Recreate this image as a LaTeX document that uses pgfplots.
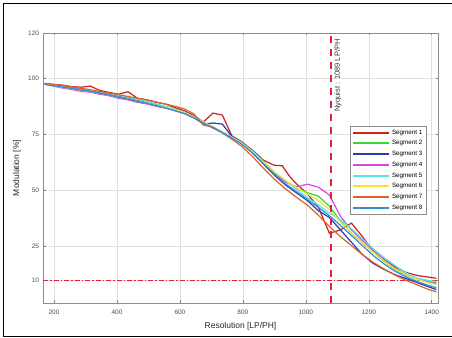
\documentclass[border=0pt]{standalone}
\usepackage{pgfplots}
\pgfplotsset{compat=1.18}
\usepackage{fontspec}
\setmainfont{Liberation Sans}
\definecolor{sone}{RGB}{200,35,30}
\definecolor{stwo}{RGB}{50,220,50}
\definecolor{sthree}{RGB}{40,60,180}
\definecolor{sfour}{RGB}{220,70,220}
\definecolor{sfive}{RGB}{80,230,240}
\definecolor{ssix}{RGB}{240,230,50}
\definecolor{sseven}{RGB}{220,100,40}
\definecolor{seight}{RGB}{50,140,220}
\definecolor{nyq}{RGB}{230,30,60}
\begin{document}
\begin{tikzpicture}
\path[use as bounding box] (0,0) rectangle (452bp,338bp);
\draw[line width=0.9bp] (453bp,2bp) -- (3bp,2bp) -- (3bp,335bp) -- (453bp,335bp);
\begin{axis}[
  at={(43bp,35bp)}, anchor=south west,
  width=395bp, height=270bp, scale only axis,
  xmin=165, xmax=1420, ymin=0, ymax=120,
  xtick={200,400,600,800,1000,1200,1400},
  ytick={10,25,50,75,100,120},
  /pgf/number format/assume math mode=true,
  /pgf/number format/set thousands separator={},
  tick pos=both, tick align=inside,
  major tick length=2.5bp,
  major tick style={black!50, line width=0.5bp},
  axis line style={draw=black!45, line width=0.6bp},
  grid=major, grid style={black!12, line width=0.5bp},
  ticklabel style={font=\fontsize{6.5}{7}\selectfont, text=black!70},
  xticklabel style={yshift=-3.5bp},
  yticklabel style={xshift=-0.5bp},
  xlabel={Resolution [LP/PH]},
  ylabel={Modulation [\%]},
  label style={font=\fontsize{8.5}{9}\selectfont, text=black!85},
  xlabel style={at={(axis description cs:0.5,0)}, anchor=center, yshift=-23bp},
  ylabel style={at={(axis description cs:0,0.5)}, anchor=center, rotate=0, yshift=26bp},
  legend style={at={(0.97,0.656)}, anchor=north east, draw=black!45, line width=0.5bp,
    font=\fontsize{6.3}{7}\selectfont, inner sep=1.5bp, row sep=0.9bp,
    cells={anchor=west}},
  legend image code/.code={\draw[#1,line width=2bp] (0bp,0bp) -- (36bp,0bp);},
  every axis plot/.append style={line width=1.2bp},
]
\addplot[forget plot, color=nyq, line width=1.4bp, dash pattern=on 5bp off 2bp on 1.5bp off 2bp] coordinates {(165,10) (1420,10)};

\addplot[sone] coordinates {(170,97.6) (195,97.2) (225,96.9) (255,96.2) (285,95.9) (315,96.4) (345,94.5) (375,93.6) (405,92.8) (435,93.9) (465,91.0) (495,90.3) (525,89.2) (555,88.4) (585,86.8) (615,85.4) (645,83.2) (675,80.5) (705,84.4) (735,83.5) (765,74.3) (795,71.8) (830,68.0) (865,63.5) (900,61.2) (925,61.0) (950,56.0) (970,53.0) (1005,48.5) (1040,42.5) (1075,31.0) (1110,32.5) (1145,35.5) (1180,29.5) (1215,23.0) (1250,19.2) (1285,16.0) (1320,13.5) (1355,12.2) (1390,11.5) (1415,11.0)};
\addlegendentry{Segment 1}
\addplot[stwo] coordinates {(170,97.3) (195,96.8) (225,96.1) (255,95.5) (285,94.8) (315,94.3) (345,93.4) (375,92.6) (405,91.8) (435,90.9) (465,90.0) (495,89.0) (525,88.0) (555,87.0) (585,85.8) (615,84.4) (645,82.5) (675,80.3) (705,78.0) (735,76.0) (765,73.8) (795,71.2) (830,67.3) (865,62.5) (900,57.8) (935,54.2) (970,51.0) (1005,49.0) (1040,47.5) (1075,43.0) (1110,36.5) (1145,31.0) (1180,26.8) (1215,22.5) (1250,18.3) (1285,14.8) (1320,12.3) (1355,10.5) (1390,9.5) (1415,9.0)};
\addlegendentry{Segment 2}
\addplot[sthree] coordinates {(170,97.4) (195,96.9) (225,96.3) (255,95.6) (285,95.0) (315,94.3) (345,93.5) (375,92.7) (405,91.8) (435,90.9) (465,89.9) (495,89.0) (525,88.0) (555,86.9) (585,85.8) (615,84.5) (645,82.3) (675,79.5) (705,80.0) (735,79.5) (765,74.0) (795,71.0) (830,66.8) (865,61.8) (900,56.8) (935,52.5) (970,49.0) (1005,45.5) (1040,41.0) (1075,38.0) (1110,32.5) (1145,27.0) (1180,21.5) (1215,17.5) (1250,14.8) (1285,12.5) (1320,10.8) (1355,9.0) (1390,7.2) (1415,6.0)};
\addlegendentry{Segment 3}
\addplot[sfour] coordinates {(170,97.2) (195,96.5) (225,95.6) (255,94.9) (285,94.1) (315,93.7) (345,92.8) (375,92.1) (405,91.0) (435,90.3) (465,89.2) (495,88.5) (525,87.4) (555,86.6) (585,85.4) (615,84.1) (645,82.2) (675,80.0) (705,77.8) (735,75.8) (765,73.6) (795,71.0) (830,67.0) (865,62.3) (900,57.5) (935,53.8) (970,51.6) (1005,52.8) (1040,51.5) (1075,48.0) (1110,38.5) (1145,32.5) (1180,27.8) (1215,23.3) (1250,19.0) (1285,15.3) (1320,12.5) (1355,10.8) (1390,9.2) (1415,8.5)};
\addlegendentry{Segment 4}
\addplot[sfive] coordinates {(170,97.5) (195,97.0) (225,96.5) (255,95.9) (285,95.3) (315,94.6) (345,93.9) (375,93.1) (405,92.3) (435,91.4) (465,90.5) (495,89.5) (525,88.5) (555,87.4) (585,86.2) (615,84.8) (645,82.7) (675,80.6) (705,78.3) (735,76.0) (765,73.8) (795,71.4) (830,67.6) (865,63.0) (900,58.3) (935,54.5) (970,50.5) (1005,46.8) (1040,43.5) (1075,40.0) (1110,37.0) (1145,33.0) (1180,28.5) (1215,24.0) (1250,20.0) (1285,16.5) (1320,13.2) (1355,11.0) (1390,10.0) (1415,9.5)};
\addlegendentry{Segment 5}
\addplot[ssix] coordinates {(170,97.3) (195,96.7) (225,95.9) (255,95.3) (285,94.6) (315,94.0) (345,93.2) (375,92.4) (405,91.5) (435,90.7) (465,89.7) (495,88.8) (525,87.9) (555,86.9) (585,85.9) (615,84.6) (645,82.6) (675,80.4) (705,78.0) (735,75.8) (765,73.6) (795,71.0) (830,67.2) (865,62.6) (900,58.2) (935,54.5) (970,51.2) (1005,48.5) (1040,45.5) (1075,41.5) (1110,36.0) (1145,31.0) (1180,26.8) (1215,22.5) (1250,18.5) (1285,15.0) (1320,12.5) (1355,10.5) (1390,9.0) (1415,8.2)};
\addlegendentry{Segment 6}
\addplot[sseven] coordinates {(170,97.6) (195,97.2) (225,96.6) (255,96.0) (285,95.4) (315,94.8) (345,94.0) (375,93.3) (405,92.6) (435,91.8) (465,91.0) (495,90.2) (525,89.3) (555,88.4) (585,87.4) (615,86.2) (645,84.0) (675,79.0) (705,78.2) (735,75.6) (765,72.8) (795,69.8) (830,65.2) (865,60.0) (900,55.0) (935,50.8) (970,47.0) (1005,43.5) (1040,39.0) (1075,34.0) (1110,29.5) (1145,25.5) (1180,21.5) (1215,18.0) (1250,15.0) (1285,12.3) (1320,10.0) (1355,8.0) (1390,6.0) (1415,5.0)};
\addlegendentry{Segment 7}
\addplot[seight] coordinates {(170,97.2) (195,96.6) (225,96.0) (255,95.4) (285,94.7) (315,94.0) (345,93.2) (375,92.4) (405,91.5) (435,90.6) (465,89.6) (495,88.7) (525,87.7) (555,86.6) (585,85.5) (615,84.2) (645,82.3) (675,80.0) (705,77.8) (735,75.6) (765,73.4) (795,70.8) (830,66.8) (865,62.0) (900,57.2) (935,53.0) (970,49.5) (1005,46.0) (1040,42.5) (1075,38.8) (1110,34.5) (1145,30.0) (1180,25.5) (1215,21.0) (1250,17.2) (1285,14.0) (1320,11.5) (1355,9.5) (1390,7.8) (1415,6.8)};
\addlegendentry{Segment 8}

\addplot[forget plot, color=nyq, line width=1.8bp, dash pattern=on 7bp off 6bp] coordinates {(1080,0) (1080,120)};
\node[rotate=90, anchor=north, font=\fontsize{7.5}{8}\selectfont, text=black!80, xshift=2.5bp] at (axis cs:1080,100) {Nyquist : 1089 LP/PH};
\end{axis}
\end{tikzpicture}
\end{document}
